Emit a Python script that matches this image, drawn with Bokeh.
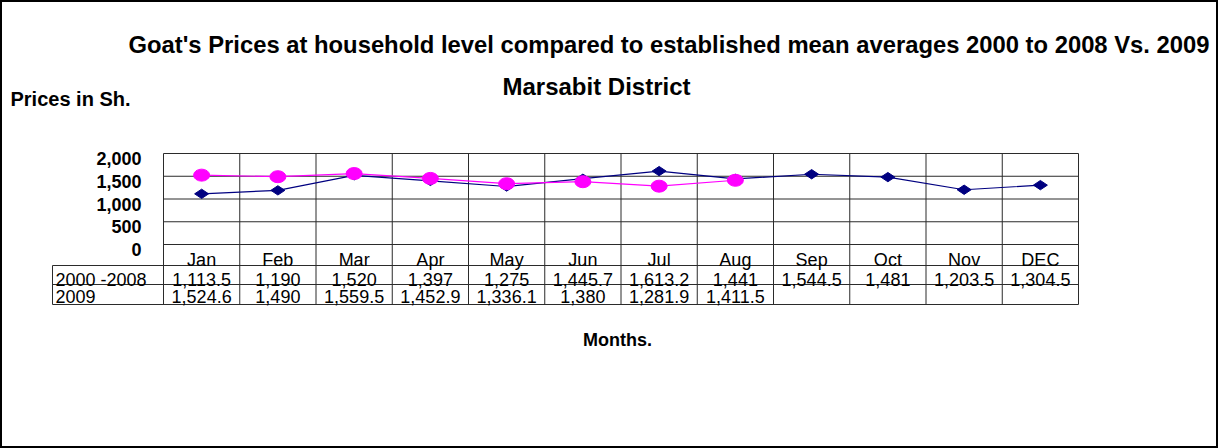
from bokeh.plotting import figure
from bokeh.models import Range1d
from bokeh.core.properties import value
from bokeh.embed import file_html
from bokeh.resources import INLINE
import numpy as np

# ---------------- data ----------------
months = ["Jan", "Feb", "Mar", "Apr", "May", "Jun", "Jul", "Aug", "Sep", "Oct", "Nov", "DEC"]
series_names = ["2000 -2008", "2009"]
avg_2000_2008 = [1113.5, 1190, 1520, 1397, 1275, 1445.7, 1613.2, 1441, 1544.5, 1481, 1203.5, 1304.5]
prices_2009 = [1524.6, 1490, 1559.5, 1452.9, 1336.1, 1380, 1281.9, 1411.5]
y_ticks = [0, 500, 1000, 1500, 2000]
y_tick_labels = ["0", "500", "1,000", "1,500", "2,000"]
title_1 = "Goat's Prices at household level compared to established mean averages 2000 to 2008 Vs. 2009"
title_2 = "Marsabit District"
y_title = "Prices in Sh."
x_title = "Months."

# ---------------- layout (canvas pixels, origin top-left) ----------------
W, H = 1218, 448
PLOT_L, PLOT_R = 163, 1078
PLOT_T, PLOT_B = 153, 244
TABLE_L = 52
ROW_TOP, ROW_MID, ROW_BOT = 265, 284, 304
n = len(months)
ymax = y_ticks[-1]
px_x = (PLOT_R - PLOT_L) / n
px_y = (PLOT_B - PLOT_T) / ymax


def dx(px):
    return (px - PLOT_L) / px_x


def dy(py):
    return (PLOT_B - py) / px_y


FONT = value("Liberation Sans")
GRID = "#2b2b2b"

p = figure(width=W, height=H,
           x_range=Range1d(dx(0), dx(W)), y_range=Range1d(dy(H), dy(0)),
           x_axis_location=None, y_axis_location=None,
           toolbar_location=None, output_backend="svg",
           min_border=0, min_border_left=0, min_border_right=0,
           min_border_top=0, min_border_bottom=0)
p.xgrid.visible = False
p.ygrid.visible = False
p.outline_line_color = "black"
p.outline_line_width = 3
p.background_fill_color = "white"
p.border_fill_color = "white"

# plot gridlines
p.segment(x0=[0] * len(y_ticks), y0=y_ticks, x1=[n] * len(y_ticks), y1=y_ticks,
          line_color=GRID, line_width=1)
cols = list(range(n + 1))
p.segment(x0=cols, y0=[ymax] * len(cols), x1=cols, y1=[dy(ROW_BOT)] * len(cols),
          line_color=GRID, line_width=1)
# table lines
rows = [dy(ROW_TOP), dy(ROW_MID), dy(ROW_BOT)]
p.segment(x0=[dx(TABLE_L)] * 3, y0=rows, x1=[n] * 3, y1=rows, line_color=GRID, line_width=1)
p.segment(x0=[dx(TABLE_L)], y0=[dy(ROW_TOP)], x1=[dx(TABLE_L)], y1=[dy(ROW_BOT)],
          line_color=GRID, line_width=1)

# series
xs1 = [i + 0.5 for i in range(len(avg_2000_2008))]
xs2 = [i + 0.5 for i in range(len(prices_2009))]
p.line(xs1, avg_2000_2008, line_color="#000080", line_width=1.2)
p.scatter(xs1, avg_2000_2008, marker="diamond", size=14, angle=np.pi / 2,
          fill_color="#000080", line_color="#000080")
p.line(xs2, prices_2009, line_color="#FF00FF", line_width=1.2)
p.ellipse(xs2, prices_2009, width=16, height=12, width_units="screen", height_units="screen",
          fill_color="#FF00FF", line_color="#FF00FF")

# y tick labels
p.text(x=[dx(141)] * len(y_ticks), y=y_ticks, text=y_tick_labels, y_offset=5,
       text_align="right", text_baseline="alphabetic", text_font=FONT,
       text_font_size="18px", text_font_style="bold", text_color="black")


def fmt(v):
    return f"{v:,.0f}" if float(v).is_integer() else f"{v:,.1f}"


# month labels
cx = [i + 0.5 for i in range(n)]
p.text(x=cx, y=[dy(259)] * n, text=months, text_align="center", text_baseline="alphabetic",
       text_font=FONT, text_font_size="18px", text_color="black")
# table values
p.text(x=xs1, y=[dy(279)] * len(xs1), text=[fmt(v) for v in avg_2000_2008],
       text_align="center", text_baseline="alphabetic", text_font=FONT,
       text_font_size="18px", text_color="black")
p.text(x=xs2, y=[dy(296)] * len(xs2), text=[fmt(v) for v in prices_2009],
       text_align="center", text_baseline="alphabetic", text_font=FONT,
       text_font_size="18px", text_color="black")
p.text(x=[dx(55)] * 2, y=[dy(279), dy(296)], text=series_names, text_align="left",
       text_baseline="alphabetic", text_font=FONT, text_font_size="18px", text_color="black")

# titles
p.text(x=[dx(128)], y=[dy(44)], text=[title_1], text_align="left", text_baseline="alphabetic",
       text_font=FONT, text_font_size="23.8px", text_font_style="bold", text_color="black")
p.text(x=[dx(596)], y=[dy(86)], text=[title_2], text_align="center", text_baseline="alphabetic",
       text_font=FONT, text_font_size="24px", text_font_style="bold", text_color="black")
p.text(x=[dx(10)], y=[dy(98)], text=[y_title], text_align="left", text_baseline="alphabetic",
       text_font=FONT, text_font_size="20px", text_font_style="bold", text_color="black")
p.text(x=[dx(617)], y=[dy(339)], text=[x_title], text_align="center", text_baseline="alphabetic",
       text_font=FONT, text_font_size="18px", text_font_style="bold", text_color="black")

open("out.html", "w").write(file_html(p, INLINE))
